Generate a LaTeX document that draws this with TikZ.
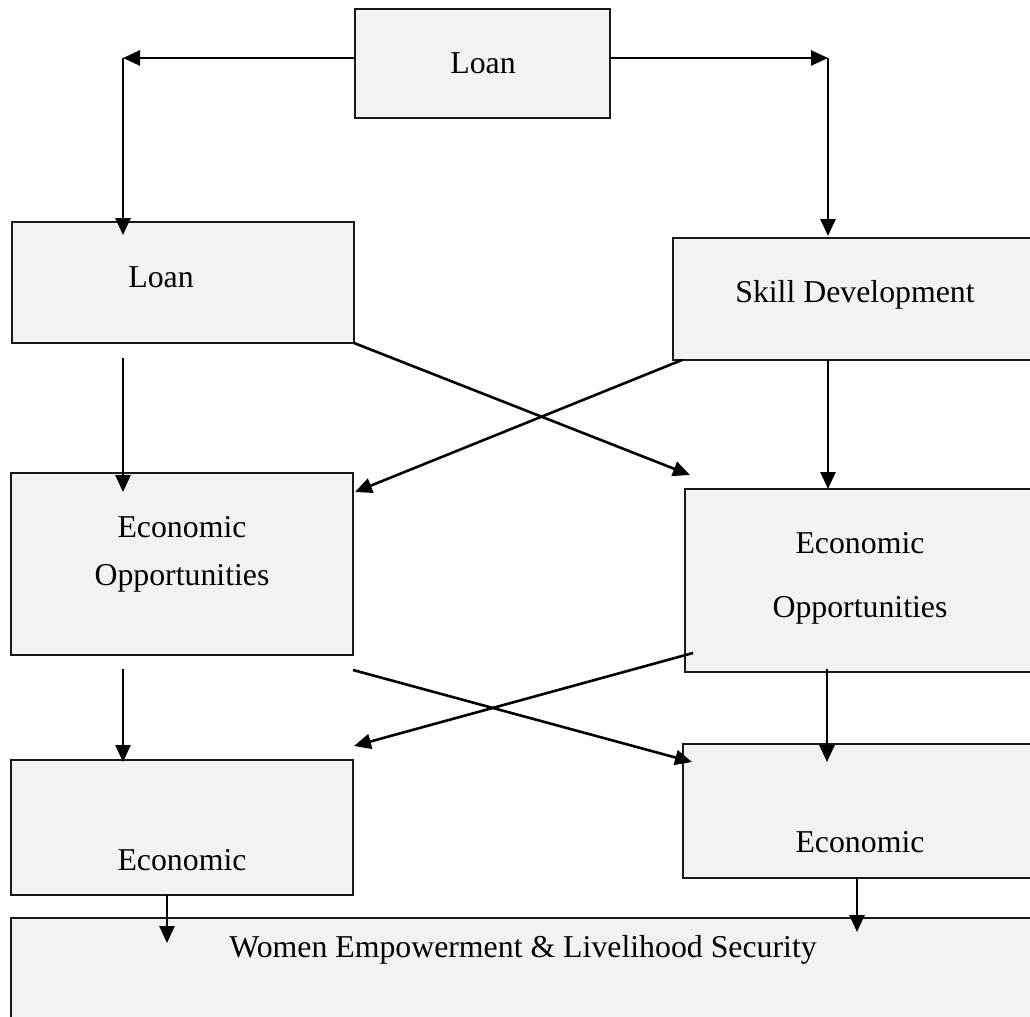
\documentclass[tikz,border=0pt]{standalone}
\usepackage{fontspec}
\setmainfont{Liberation Serif}
\usetikzlibrary{arrows.meta,fit}
\begin{document}
\begin{tikzpicture}[x=0.5pt,y=-0.5pt,
  box/.style={draw=black!90, line width=1.2pt, fill=gray!10, inner sep=0pt, rectangle},
  txt/.style={inner sep=0pt, anchor=base, font=\fontsize{15.9pt}{19pt}\selectfont},
  arr/.style={draw=black, line width=1.3pt, -{Triangle[length=8.5pt,width=7.5pt]}}]
\useasboundingbox (0,0) rectangle (1030,1017);
\clip (0,0) rectangle (1030,1017);
\fill[white] (0,0) rectangle (1030,1017);
% boxes
\node[box, fit={(355,9) (610,118)}] (top) {};
\node[box, fit={(12,222) (354,343)}] (loanL) {};
\node[box, fit={(673,238) (1045,360)}] (skill) {};
\node[box, fit={(11,473) (353,655)}] (econL) {};
\node[box, fit={(685,489) (1045,672)}] (econR) {};
\node[box, fit={(11,760) (353,895)}] (ecoL) {};
\node[box, fit={(683,744) (1045,878)}] (ecoR) {};
\node[box, fit={(11,918) (1045,1040)}] (women) {};
% texts
\node[txt] (tTop) at (483,73) {Loan};
\node[txt] (tLoanL) at (161,287) {Loan};
\node[txt] (tSkill) at (855,302) {Skill Development};
\node[txt] (tEconL1) at (182,537) {Economic};
\node[txt] (tEconL2) at (182,585) {Opportunities};
\node[txt] (tEconR1) at (860,553) {Economic};
\node[txt] (tEconR2) at (860,617) {Opportunities};
\node[txt] (tEcoL) at (182,870) {Economic};
\node[txt] (tEcoR) at (860,852) {Economic};
\node[txt] (tWomen) at (523,957) {Women Empowerment \& Livelihood Security};
% connector coordinates
\coordinate (cL) at (123,58);
\coordinate (cR) at (828,58);
\coordinate (eLoanL) at (123,235);
\coordinate (eSkill) at (828,236);
\coordinate (s5) at (123,358);
\coordinate (e5) at (123,492);
\coordinate (s6) at (354,343);
\coordinate (e6) at (690,475);
\coordinate (s7) at (682,360);
\coordinate (e7) at (355,492);
\coordinate (s8) at (828,360);
\coordinate (e8) at (828,489);
\coordinate (s9) at (123,669);
\coordinate (e9) at (123,762);
\coordinate (s10) at (353,670);
\coordinate (e10) at (692,762);
\coordinate (s11) at (693,653);
\coordinate (e11) at (354,746);
\coordinate (s12) at (827,669);
\coordinate (e12) at (827,762);
\coordinate (s13) at (167,895);
\coordinate (e13) at (167,943);
\coordinate (s14) at (857,878);
\coordinate (e14) at (857,932);
% connectors
\draw[arr] (top.west |- cL) -- (cL);
\draw[arr] (cL) -- (eLoanL);
\draw[arr] (top.east |- cR) -- (cR);
\draw[arr] (cR) -- (eSkill);
\draw[arr] (s5) -- (e5);
\draw[arr] (s6) -- (e6);
\draw[arr] (s7) -- (e7);
\draw[arr] (s8) -- (e8);
\draw[arr] (s9) -- (e9);
\draw[arr] (s10) -- (e10);
\draw[arr] (s11) -- (e11);
\draw[arr] (s12) -- (e12);
\draw[arr] (s13) -- (e13);
\draw[arr] (s14) -- (e14);
\end{tikzpicture}
\end{document}
